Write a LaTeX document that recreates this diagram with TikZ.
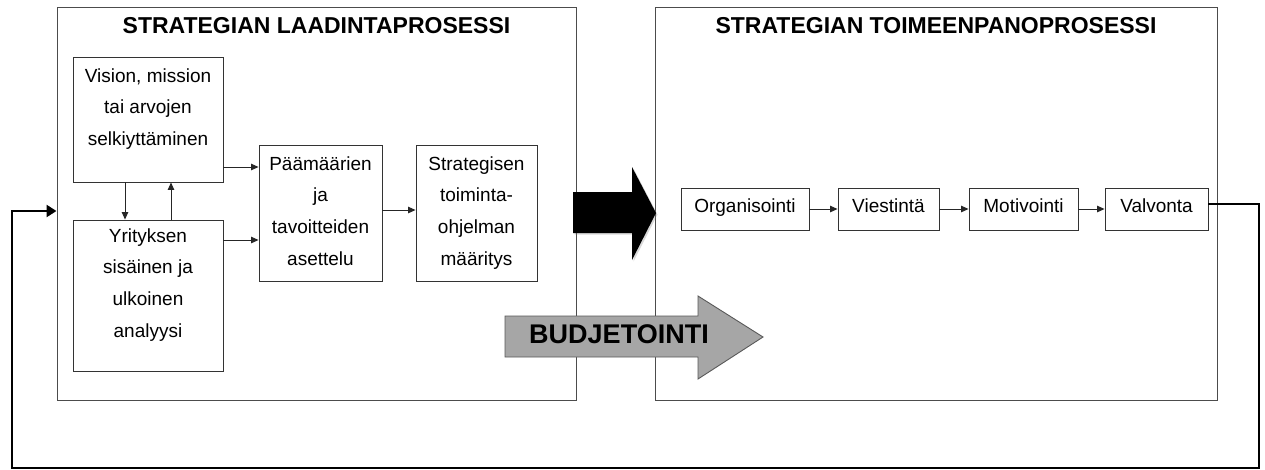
\documentclass[tikz,border=0pt]{standalone}
\usepackage{fontspec}
\setmainfont{Liberation Sans}
\usetikzlibrary{arrows.meta,shadows,calc}

\begin{document}
\begin{tikzpicture}[x=1pt,y=-1pt,
  frame/.style={draw=black!70,line width=1pt,inner sep=0pt},
  stepbox/.style={draw=black!80,line width=0.9pt,fill=white,inner sep=0pt},
  chainbox/.style={stepbox,font=\fontsize{19}{23}\selectfont,text height=12pt,text depth=5pt},
  boxtext/.style={inner sep=0pt,align=center,font=\fontsize{19}{31.7}\selectfont,anchor=north},
  title/.style={inner sep=0pt,font=\fontsize{23}{27}\selectfont\bfseries,anchor=base},
  link/.style={draw=black!85,line width=0.9pt,-{Triangle[length=7.5pt,width=6.5pt]}},
  feedback/.style={line width=2.5pt,-{Triangle[length=10pt,width=12pt]}}]
\useasboundingbox (0,0) rectangle (1265,469);

% helper rows and columns for the connectors
\coordinate (r1) at (0,167);
\coordinate (r2) at (0,240);
\coordinate (r3) at (0,210);
\coordinate (cdown) at (125,0);
\coordinate (cup) at (171,0);
\coordinate (fb) at (0,204);
\coordinate (fbin) at (0,211);
\coordinate (fbR) at (1259,468);
\coordinate (fbL) at (12,468);

% the two process frames
\node[frame,minimum width=519pt,minimum height=393pt] (lframe) at (316.5,203.5) {};
\node[frame,minimum width=562pt,minimum height=393pt] (rframe) at (936,203.5) {};
\node[title] (ltitle) at (316.5,33) {STRATEGIAN LAADINTAPROSESSI};
\node[title] (rtitle) at (936,33) {STRATEGIAN TOIMEENPANOPROSESSI};

% strategy formulation steps
\node[stepbox,minimum width=150pt,minimum height=125pt] (vis) at (148,119.5) {};
\node[stepbox,minimum width=150pt,minimum height=151pt] (yri) at (148,295.5) {};
\node[stepbox,minimum width=123pt,minimum height=136pt] (paa) at (320.5,213) {};
\node[stepbox,minimum width=121pt,minimum height=136pt] (str) at (476.5,213) {};

\node[boxtext] (vistext) at (148,68.3) {Vision, mission\\tai arvojen\\selkiyttäminen};
\node[boxtext] (yritext) at (148,228.3) {Yrityksen\\sisäinen ja\\ulkoinen\\analyysi};
\node[boxtext] (paatext) at (320.5,156.3) {Päämäärien\\ja\\tavoitteiden\\asettelu};
\node[boxtext] (strtext) at (476.5,156.3) {Strategisen\\toiminta-\\ohjelman\\määritys};

\draw[link] (vis.east |- r1) -- (paa.west |- r1);
\draw[link] (yri.east |- r2) -- (paa.west |- r2);
\draw[link] (paa.east |- r3) -- (str.west |- r3);
\draw[link] (vis.south -| cdown) -- (yri.north -| cdown);
\draw[link] (yri.north -| cup) -- (vis.south -| cup);

% strategy implementation chain
\node[chainbox,minimum width=128pt,minimum height=42pt] (org) at (745,209) {Organisointi};
\node[chainbox,minimum width=101pt,minimum height=42pt] (vie) at (888.5,209) {Viestintä};
\node[chainbox,minimum width=109pt,minimum height=42pt] (mot) at (1023.5,209) {Motivointi};
\node[chainbox,minimum width=103pt,minimum height=42pt] (val) at (1156.5,209) {Valvonta};

\draw[link] (org.east) -- (vie.west);
\draw[link] (vie.east) -- (mot.west);
\draw[link] (mot.east) -- (val.west);

% feedback loop back to formulation
\draw[feedback] (val.east |- fb) -| (fbR) -- (fbL) |- (lframe.west |- fbin);

% big black transition arrow
\fill[black,drop shadow={shadow xshift=1.5pt,shadow yshift=-1.5pt,opacity=0.3}]
  (573,192) -- (632,192) -- (632,167) -- (656,213) -- (632,260) -- (632,233) -- (573,233) -- cycle;

% budgeting arrow
\filldraw[fill=black!35,draw=black!65,line width=0.9pt]
  (505,316) -- (698,316) -- (698,296) -- (763,337) -- (698,379) -- (698,357) -- (505,357) -- cycle;
\node[inner sep=0pt,font=\fontsize{27}{30}\selectfont\bfseries] (budget) at (619,334) {BUDJETOINTI};
\end{tikzpicture}
\end{document}
